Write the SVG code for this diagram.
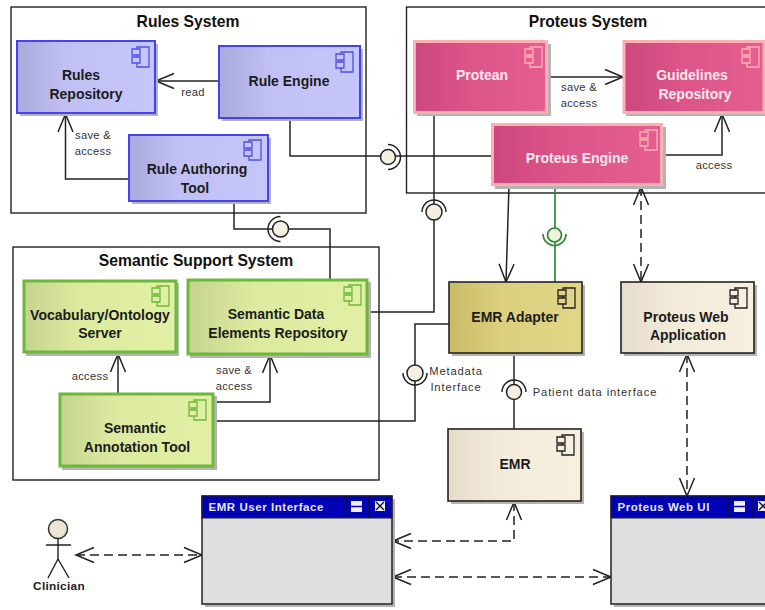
<svg xmlns="http://www.w3.org/2000/svg" width="765" height="610" viewBox="0 0 765 610">
<style>
text{font-family:"Liberation Sans",Arial,sans-serif;text-anchor:middle}
.title{font-size:15.700px;font-weight:bold;fill:#111}
.n{font-size:14px;font-weight:bold;fill:#1c1c1c}
.nw{font-size:14px;font-weight:bold;fill:#fbe9ef}
.lb{font-size:11.200px;fill:#333;letter-spacing:.3px}
.wide{letter-spacing:.85px}
.hd{font-size:11.500px;font-weight:bold;fill:#e8e8ff;text-anchor:start;letter-spacing:.55px}
.sys{fill:#fff;stroke:#222;stroke-width:1.400}
.sh{fill:#b4b4b4}
.c{fill:none;stroke:#222;stroke-width:1.500}
.g{fill:none;stroke:#2f8a35;stroke-width:1.700}
.d{fill:none;stroke:#222;stroke-width:1.500;stroke-dasharray:9 5}
.ball{fill:#f5efdf;stroke:#222;stroke-width:1.500}
.ballg{fill:#eef5dc;stroke:#2f8a35;stroke-width:1.700}
.blue{fill:url(#gb);stroke:#4444ee;stroke-width:2}
.pink{fill:url(#gp);stroke:#fdb0b4;stroke-width:3}
.green{fill:url(#gg);stroke:#6cb83a;stroke-width:3}
.olive{fill:url(#go);stroke:#222;stroke-width:1.600}
.tan{fill:url(#gt);stroke:#222;stroke-width:1.600}
.win{fill:#dfdfdf;stroke:#222;stroke-width:1.500}
.bar{fill:#0000b4;stroke:#222;stroke-width:1}
.ib{fill:none;stroke:#5050e0;stroke-width:1.300}
.ip{fill:none;stroke:#fdb0b4;stroke-width:1.300}
.ig{fill:none;stroke:#6cb83a;stroke-width:1.300}
.ik{fill:none;stroke:#222;stroke-width:1.300}
</style>
<defs>
<linearGradient id="gb"><stop offset="0" stop-color="#a9a9dc"/><stop offset=".35" stop-color="#c0c0f4"/><stop offset="1" stop-color="#c6c6fb"/></linearGradient>
<linearGradient id="gp"><stop offset="0" stop-color="#cc487e"/><stop offset=".4" stop-color="#dc5488"/><stop offset="1" stop-color="#e45f90"/></linearGradient>
<linearGradient id="gg"><stop offset="0" stop-color="#c5d48e"/><stop offset=".35" stop-color="#dcea9f"/><stop offset="1" stop-color="#e2f0a6"/></linearGradient>
<linearGradient id="go"><stop offset="0" stop-color="#c9bb66"/><stop offset=".4" stop-color="#dcd07f"/><stop offset="1" stop-color="#e0d686"/></linearGradient>
<linearGradient id="gt"><stop offset="0" stop-color="#e6dccb"/><stop offset=".4" stop-color="#f3ebda"/><stop offset="1" stop-color="#f8f0df"/></linearGradient>
<path id="icon" d="M-8,-8V-10H4V10H-8V6M-8,0V-2M-13,-8H-5V-2H-13ZM-13,0H-5V6H-13Z"/>
<marker id="open" viewBox="-20 -10 22 20" refX="0" refY="0" markerWidth="22" markerHeight="20" markerUnits="userSpaceOnUse" orient="auto-start-reverse"><path d="M-18,-7.500L0,0L-18,7.500" fill="none" stroke="#222" stroke-width="1.500"/></marker>
</defs>

<g id="rules-system"><rect class="sys" x="11" y="7" width="355" height="206"/><text class="title" x="188" y="27">Rules System</text></g>
<g id="proteus-system"><rect class="sys" x="406.500" y="7" width="370" height="186"/><text class="title" x="588" y="27">Proteus System</text></g>
<g id="semantic-system"><rect class="sys" x="13" y="247" width="366" height="233"/><text class="title" x="196" y="266">Semantic Support System</text></g>

<g id="connectors">
<path class="c" d="M219,81H156" marker-end="url(#open)"/>
<path class="c" d="M129,179H65.500V114" marker-end="url(#open)"/>
<path class="c" d="M290,118V156H492"/>
<path class="c" d="M234,201V229H330V279"/>
<path class="c" d="M434,113V312H368"/>
<path class="c" d="M509,186L506,282" marker-end="url(#open)"/>
<path class="g" d="M555,186V282"/>
<path class="d" d="M641,187V282" marker-start="url(#open)" marker-end="url(#open)"/>
<path class="c" d="M663,155H722V114" marker-end="url(#open)"/>
<path class="c" d="M549,77H623" marker-end="url(#open)"/>
<path class="c" d="M118,393V354" marker-end="url(#open)"/>
<path class="c" d="M214,402H270V355" marker-end="url(#open)"/>
<path class="c" d="M214,421H415V324H449"/>
<path class="c" d="M514,353V429"/>
<path class="d" d="M687,354V496" marker-start="url(#open)" marker-end="url(#open)"/>
<path class="d" d="M76,555H202" marker-start="url(#open)" marker-end="url(#open)"/>
<path class="d" d="M514,502V541H393" marker-start="url(#open)" marker-end="url(#open)"/>
<path class="d" d="M393,577H611" marker-start="url(#open)" marker-end="url(#open)"/>
<circle class="ball" cx="388" cy="157" r="7.500"/><path class="c" d="M388,144.500A12.500,12.500 0 0 1 388,169.500"/>
<circle class="ball" cx="280.500" cy="229" r="8"/><path class="c" d="M280.500,216.500A12.500,12.500 0 0 0 280.500,241.500"/>
<circle class="ball" cx="434" cy="212" r="8"/><path class="c" d="M422,212A12,12 0 0 1 446,212"/>
<circle class="ballg" cx="554.500" cy="235" r="7"/><path class="g" d="M543,234A11.500,11.500 0 0 0 566,234"/>
<circle class="ball" cx="415" cy="373" r="8"/><path class="c" d="M403,373A12,12 0 0 0 427,373"/>
<circle class="ball" cx="514" cy="392" r="7.500"/><path class="c" d="M502,392A12,12 0 0 1 526,392"/>
<text class="lb" x="193" y="96">read</text>
<text class="lb" x="93" y="139">save &amp;</text><text class="lb" x="93" y="155">access</text>
<text class="lb" x="579" y="91">save &amp;</text><text class="lb" x="579" y="107">access</text>
<text class="lb" x="714" y="169">access</text>
<text class="lb" x="90" y="380">access</text>
<text class="lb" x="234" y="374">save &amp;</text><text class="lb" x="234" y="390">access</text>
<text class="lb wide" x="456" y="375">Metadata</text><text class="lb wide" x="456" y="391">Interface</text>
<text class="lb wide" x="595" y="396">Patient data interface</text>
</g>

<g id="rules-repository"><rect class="sh" x="20" y="44" width="138" height="72"/><rect class="blue" x="17" y="41" width="138" height="72"/><use href="#icon" class="ib" x="145" y="57"/><text class="n" x="81" y="80">Rules</text><text class="n" x="86" y="99">Repository</text></g>
<g id="rule-engine"><rect class="sh" x="222" y="49" width="141" height="72"/><rect class="blue" x="219" y="46" width="141" height="72"/><use href="#icon" class="ib" x="349" y="62"/><text class="n" x="289" y="86">Rule Engine</text></g>
<g id="rule-authoring-tool"><rect class="sh" x="132" y="138" width="139" height="66"/><rect class="blue" x="129" y="135" width="139" height="66"/><use href="#icon" class="ib" x="257" y="150"/><text class="n" x="197" y="174">Rule Authoring</text><text class="n" x="195" y="193">Tool</text></g>

<g id="protean"><rect class="sh" x="417" y="44" width="134" height="72"/><rect class="pink" x="414.500" y="41.500" width="132" height="71"/><use href="#icon" class="ip" x="538" y="57"/><text class="nw" x="482" y="80">Protean</text></g>
<g id="guidelines-repository"><rect class="sh" x="626" y="44" width="140" height="72"/><rect class="pink" x="624" y="41.500" width="140" height="71"/><use href="#icon" class="ip" x="755" y="57"/><text class="nw" x="692" y="80">Guidelines</text><text class="nw" x="695" y="99">Repository</text></g>
<g id="proteus-engine"><rect class="sh" x="495" y="127" width="171" height="62"/><rect class="pink" x="492.500" y="124.500" width="169" height="60"/><use href="#icon" class="ip" x="653" y="140"/><text class="nw" x="577" y="163">Proteus Engine</text></g>

<g id="vocabulary-server"><rect class="sh" x="26" y="283" width="153" height="73"/><rect class="green" x="24" y="281" width="152" height="71"/><use href="#icon" class="ig" x="165" y="296"/><text class="n" x="100" y="320">Vocabulary/Ontology</text><text class="n" x="100" y="338">Server</text></g>
<g id="semantic-data-elements"><rect class="sh" x="190" y="282" width="181" height="76"/><rect class="green" x="188" y="280" width="179" height="74"/><use href="#icon" class="ig" x="357" y="295"/><text class="n" x="276" y="319">Semantic Data</text><text class="n" x="278" y="338">Elements Repository</text></g>
<g id="semantic-annotation-tool"><rect class="sh" x="62" y="396" width="155" height="74"/><rect class="green" x="60" y="394" width="153" height="72"/><use href="#icon" class="ig" x="202" y="410"/><text class="n" x="135" y="433">Semantic</text><text class="n" x="137" y="452">Annotation Tool</text></g>

<g id="emr-adapter"><rect class="sh" x="452" y="285" width="133" height="71"/><rect class="olive" x="449" y="282" width="133" height="71"/><use href="#icon" class="ik" x="571" y="298"/><text class="n" x="515" y="322">EMR Adapter</text></g>
<g id="proteus-web-application"><rect class="sh" x="624" y="285" width="133" height="71"/><rect class="tan" x="621" y="282" width="133" height="71"/><use href="#icon" class="ik" x="743" y="298"/><text class="n" x="686" y="322">Proteus Web</text><text class="n" x="688" y="340">Application</text></g>
<g id="emr"><rect class="sh" x="451" y="432" width="133" height="72"/><rect class="tan" x="448" y="429" width="133" height="72"/><use href="#icon" class="ik" x="570" y="445"/><text class="n" x="515" y="469">EMR</text></g>

<g id="emr-user-interface"><rect class="sh" x="205" y="499" width="190" height="108"/><rect class="win" x="202" y="496" width="190" height="108"/><rect class="bar" x="202" y="496" width="190" height="22"/><text class="hd" x="208.500" y="511">EMR User Interface</text><path d="M346,496V518M369,496V518" stroke="#111" fill="none"/><rect x="351" y="501" width="11" height="11" fill="#eee"/><path d="M351,506.500H362" stroke="#0000b4" stroke-width="1.500"/><rect x="375" y="501" width="10" height="10" fill="#eee"/><path d="M376,502L384,510M384,502L376,510" stroke="#111" stroke-width="1.300"/></g>
<g id="proteus-web-ui"><rect class="sh" x="614" y="499" width="170" height="108"/><rect class="win" x="611" y="496" width="170" height="108"/><rect class="bar" x="611" y="496" width="170" height="22"/><text class="hd" x="617.500" y="511">Proteus Web UI</text><path d="M728,496V518M752,496V518" stroke="#111" fill="none"/><rect x="734" y="501" width="11" height="11" fill="#eee"/><path d="M734,506.500H745" stroke="#0000b4" stroke-width="1.500"/><rect x="758" y="501" width="10" height="10" fill="#eee"/><path d="M759,502L767,510M767,502L759,510" stroke="#111" stroke-width="1.300"/></g>

<g id="clinician"><path d="M58,539V559M46,545H71M58,559L48,578M58,559L69,578" fill="none" stroke="#222" stroke-width="1.400"/><circle cx="58" cy="529" r="9.500" fill="#ece4d4" stroke="#333" stroke-width="1.500"/><text x="59" y="590" font-size="11.800" font-weight="bold" fill="#222" letter-spacing=".3">Clinician</text></g>
</svg>
